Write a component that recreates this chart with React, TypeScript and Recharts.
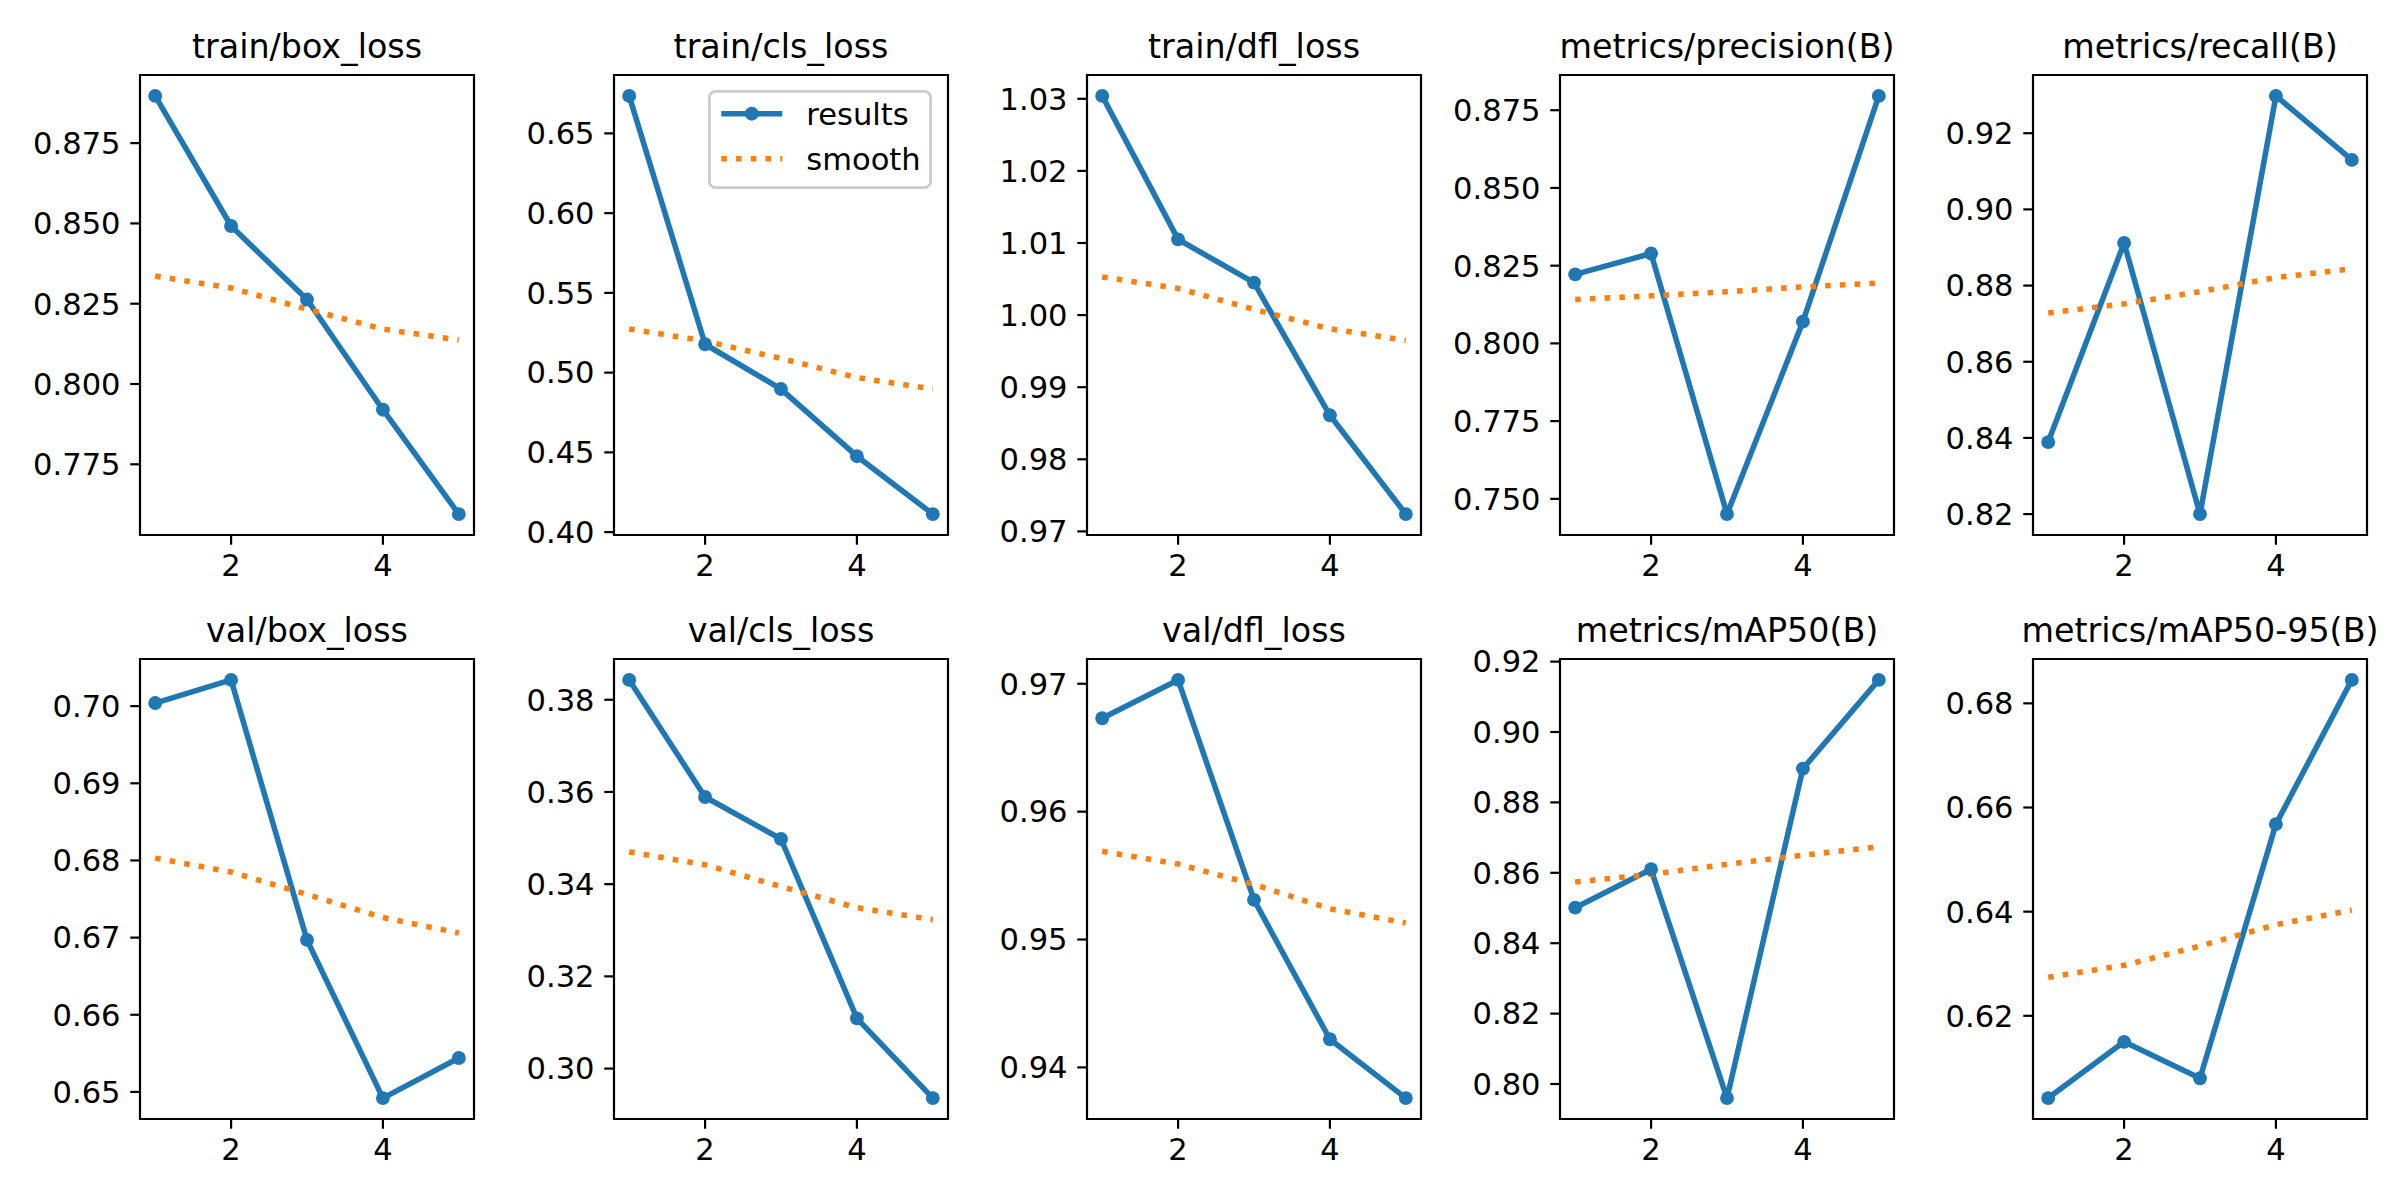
import React from "react";
import { LineChart, Line, XAxis, YAxis, ReferenceArea, Legend } from "recharts";

// ---------- data ----------
const epochs = [1, 2, 3, 4, 5];

const trainBoxLoss = [0.8897, 0.8492, 0.8263, 0.792, 0.7595];
const trainBoxLossSmooth = [0.8336, 0.8299, 0.8233, 0.8171, 0.8137];
const trainBoxLossTicks = [0.775, 0.8, 0.825, 0.85, 0.875];

const trainClsLoss = [0.6735, 0.5178, 0.4897, 0.4476, 0.4113];
const trainClsLossSmooth = [0.5274, 0.5198, 0.5089, 0.4969, 0.4897];
const trainClsLossTicks = [0.4, 0.45, 0.5, 0.55, 0.6, 0.65];

const trainDflLoss = [1.0304, 1.0105, 1.0045, 0.9861, 0.9724];
const trainDflLossSmooth = [1.0053, 1.0037, 1.0008, 0.9981, 0.9965];
const trainDflLossTicks = [0.97, 0.98, 0.99, 1.0, 1.01, 1.02, 1.03];

const precision = [0.8222, 0.8289, 0.7451, 0.807, 0.8796];
const precisionSmooth = [0.8141, 0.8153, 0.8166, 0.8182, 0.8194];
const precisionTicks = [0.75, 0.775, 0.8, 0.825, 0.85, 0.875];

const recall = [0.8389, 0.8912, 0.82, 0.9298, 0.913];
const recallSmooth = [0.8728, 0.8752, 0.8784, 0.8821, 0.8844];
const recallTicks = [0.82, 0.84, 0.86, 0.88, 0.9, 0.92];

const valBoxLoss = [0.7004, 0.7034, 0.6697, 0.6492, 0.6544];
const valBoxLossSmooth = [0.6803, 0.6785, 0.6756, 0.6726, 0.6706];
const valBoxLossTicks = [0.65, 0.66, 0.67, 0.68, 0.69, 0.7];

const valClsLoss = [0.3843, 0.3589, 0.3498, 0.3109, 0.2936];
const valClsLossSmooth = [0.347, 0.3442, 0.3395, 0.3349, 0.3323];
const valClsLossTicks = [0.3, 0.32, 0.34, 0.36, 0.38];

const valDflLoss = [0.9673, 0.9703, 0.9531, 0.9422, 0.9376];
const valDflLossSmooth = [0.9569, 0.9559, 0.9543, 0.9524, 0.9513];
const valDflLossTicks = [0.94, 0.95, 0.96, 0.97];

const map50 = [0.8501, 0.861, 0.796, 0.8896, 0.9148];
const map50Smooth = [0.8574, 0.8596, 0.8624, 0.865, 0.8674];
const map50Ticks = [0.8, 0.82, 0.84, 0.86, 0.88, 0.9, 0.92];

const map5095 = [0.6042, 0.615, 0.608, 0.6568, 0.6845];
const map5095Smooth = [0.6274, 0.6297, 0.6334, 0.6375, 0.6403];
const map5095Ticks = [0.62, 0.64, 0.66, 0.68];

const xTicks = [2, 4];

const panels = [
  { title: "train/box_loss", results: trainBoxLoss, smooth: trainBoxLossSmooth, ticks: trainBoxLossTicks, dec: 3 },
  { title: "train/cls_loss", results: trainClsLoss, smooth: trainClsLossSmooth, ticks: trainClsLossTicks, dec: 2 },
  { title: "train/dfl_loss", results: trainDflLoss, smooth: trainDflLossSmooth, ticks: trainDflLossTicks, dec: 2 },
  { title: "metrics/precision(B)", results: precision, smooth: precisionSmooth, ticks: precisionTicks, dec: 3 },
  { title: "metrics/recall(B)", results: recall, smooth: recallSmooth, ticks: recallTicks, dec: 2 },
  { title: "val/box_loss", results: valBoxLoss, smooth: valBoxLossSmooth, ticks: valBoxLossTicks, dec: 2 },
  { title: "val/cls_loss", results: valClsLoss, smooth: valClsLossSmooth, ticks: valClsLossTicks, dec: 2 },
  { title: "val/dfl_loss", results: valDflLoss, smooth: valDflLossSmooth, ticks: valDflLossTicks, dec: 2 },
  { title: "metrics/mAP50(B)", results: map50, smooth: map50Smooth, ticks: map50Ticks, dec: 2 },
  { title: "metrics/mAP50-95(B)", results: map5095, smooth: map5095Smooth, ticks: map5095Ticks, dec: 2 },
];

// ---------- style / layout ----------
const FONT = "'DejaVu Sans', sans-serif";
const BLUE = "#1f77b4";
const ORANGE = "#ff7f0e";
const LW = 5.56;
const DOT_R = 6.95;
const SPINE_W = 2.2;
const TICK_LEN = 9.72;
const TICK_PAD = 9.72;
const TICK_FS = 30.56;
const TITLE_FS = 33.33;
const DOTTED = "5.56 9.17";

const AX_LEFT0 = 140.3;
const AX_STEP = 473.2;
const AX_W = 334;
const AX_H = 460;
const ROW_TOPS = [75, 659];
const PAD_L = 130;
const PAD_T = 75;
const PAD_B = 65;
const PAD_R = 12;
const CW = PAD_L + AX_W + PAD_R;
const CH = PAD_T + AX_H + PAD_B;
const X_DOMAIN = [0.8, 5.2];

const LEG_W = 224;
const LEG_H = 99;
const legendItems = [
  { name: "results", color: BLUE, dotted: false, y: 23.7, ty: 35.2 },
  { name: "smooth", color: ORANGE, dotted: true, y: 68.7, ty: 80.1 },
];

const renderLegend = () => (
  <svg width={LEG_W} height={LEG_H} style={{ display: "block" }}>
    <rect x={1.39} y={1.39} width={LEG_W - 2.78} height={LEG_H - 2.78} rx={6.1} ry={6.1}
      fill="#ffffff" fillOpacity={0.8} stroke="#cccccc" strokeWidth={2.78} />
    {legendItems.map((it) => (
      <g key={it.name}>
        <line x1={it.dotted ? 13.3 : 16.1} x2={it.dotted ? 74.3 : 71.5} y1={it.y} y2={it.y}
          stroke={it.color} strokeWidth={LW}
          strokeLinecap={it.dotted ? "butt" : "square"}
          strokeDasharray={it.dotted ? DOTTED : undefined} />
        {!it.dotted && <circle cx={43.8} cy={it.y} r={DOT_R} fill={it.color} />}
        <text x={98.3} y={it.ty} fontSize={TICK_FS} fontFamily={FONT} fill="#000">{it.name}</text>
      </g>
    ))}
  </svg>
);

function Panel({ p, index }: { p: any; index: number }) {
  const col = index % 5;
  const row = Math.floor(index / 5);
  const axLeft = AX_LEFT0 + col * AX_STEP;
  const axTop = ROW_TOPS[row];
  const data = epochs.map((e, i) => ({ epoch: e, results: p.results[i], smooth: p.smooth[i] }));
  const all = [...p.results, ...p.smooth];
  const lo = Math.min(...all);
  const hi = Math.max(...all);
  const m = (hi - lo) * 0.05;
  const domain = [lo - m, hi + m];
  const tickStyle = { fill: "#000", fontSize: TICK_FS, fontFamily: FONT };
  return (
    <div style={{ position: "absolute", left: axLeft - PAD_L, top: axTop - PAD_T, width: CW, height: CH }}>
      <LineChart width={CW} height={CH} data={data} margin={{ top: PAD_T, right: PAD_R, bottom: 0, left: 0 }}>
        <XAxis dataKey="epoch" type="number" domain={X_DOMAIN} ticks={xTicks} allowDataOverflow
          interval={0} height={PAD_B} tickSize={TICK_LEN} tickMargin={TICK_PAD} axisLine={false}
          tickLine={{ stroke: "#000", strokeWidth: SPINE_W }} tick={tickStyle} />
        <YAxis type="number" domain={domain} ticks={p.ticks} allowDataOverflow interval={0}
          width={PAD_L} tickSize={TICK_LEN} tickMargin={TICK_PAD} axisLine={false}
          tickLine={{ stroke: "#000", strokeWidth: SPINE_W }} tick={tickStyle}
          tickFormatter={(v: number) => v.toFixed(p.dec)} />
        <Line type="linear" dataKey="results" name="results" stroke={BLUE} strokeWidth={LW}
          strokeLinejoin="round" dot={{ r: DOT_R, fill: BLUE, stroke: "none" }} activeDot={false}
          isAnimationActive={false} />
        <Line type="linear" dataKey="smooth" name="smooth" stroke={ORANGE} strokeWidth={LW}
          strokeDasharray={DOTTED} dot={false} activeDot={false} isAnimationActive={false} />
        <ReferenceArea x1={X_DOMAIN[0]} x2={X_DOMAIN[1]} y1={domain[0]} y2={domain[1]} fill="none"
          fillOpacity={0} stroke="#000" strokeWidth={SPINE_W} ifOverflow="visible" />
        {index === 1 && (
          <Legend layout="vertical" align="center" verticalAlign="middle" content={renderLegend}
            wrapperStyle={{ left: PAD_L + AX_W - 15.3 - LEG_W, top: PAD_T + 15.3, width: LEG_W, height: LEG_H }} />
        )}
      </LineChart>
      <svg width={CW} height={CH} style={{ position: "absolute", left: 0, top: 0, pointerEvents: "none" }}>
        <text x={PAD_L + AX_W / 2} y={PAD_T - 16.7} textAnchor="middle" fontSize={TITLE_FS}
          fontFamily={FONT} fill="#000">{p.title}</text>
      </svg>
    </div>
  );
}

export default function App() {
  return (
    <div style={{ position: "absolute", left: 0, top: 0, width: 2400, height: 1200, background: "#ffffff", overflow: "hidden" }}>
      {panels.map((p, i) => (
        <Panel key={p.title} p={p} index={i} />
      ))}
    </div>
  );
}
